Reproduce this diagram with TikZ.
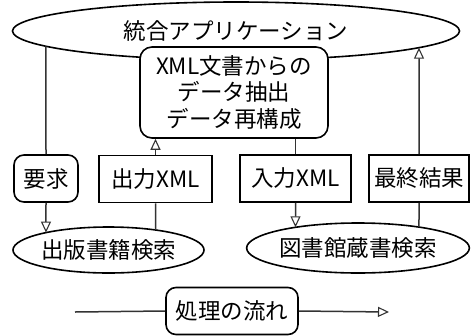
\documentclass[tikz,border=0pt]{standalone}
\usepackage{fontspec}
\setmainfont{Noto Sans CJK JP}
\usetikzlibrary{shapes.geometric,arrows.meta,intersections}
\begin{document}
\begin{tikzpicture}[x=1pt,y=-1pt,
  every node/.style={font=\fontsize{22.5}{26.5}\selectfont, inner sep=0pt},
  line/.style={line width=1.5pt, draw=black!80},
  arr/.style={line, -{Triangle[open,length=11pt,width=10pt,line width=1.1pt]}},
  box/.style={draw, line width=1.6pt, fill=white, minimum width=#1, minimum height=47pt},
  rbox/.style={box=#1, rounded corners=10pt},
  oval/.style={draw, ellipse, line width=1.6pt, fill=white}
]
\useasboundingbox (0,0) rectangle (473,335);

\node[oval, name path=appP, minimum width=447pt, minimum height=58pt] (app) at (236,31) {統合アプリケーション};
\node[draw, line width=1.6pt, fill=white, rounded corners=12pt, minimum width=188pt, minimum height=91pt, align=center] (proc) at (234,92.5) {XML文書からの\\データ抽出\\データ再構成};

\node[rbox=64pt] (req) at (46,178.5) {要求};
\node[box=113pt] (out) at (155.5,179) {出力XML};
\node[box=111pt] (in) at (295.5,178.5) {入力XML};
\node[box=100pt] (fin) at (419,178.5) {最終結果};

\node[oval, name path=pubP, minimum width=191pt, minimum height=46pt] (pub) at (108.5,250) {出版書籍検索};
\node[oval, name path=libP, minimum width=192pt, minimum height=50pt] (lib) at (358,248) {図書館蔵書検索};

\node[rbox=132pt] (flow) at (232,311) {処理の流れ};
\coordinate (fs) at (75,312);
\coordinate (fe) at (389,312);

% helper vertical paths
\path[name path=v1] (req.north) -- ++(0,-130);
\path[name path=v2] (req.south) -- ++(0,40);
\path[name path=v3] (out.south) -- ++(0,40);
\path[name path=v4] (in.south) -- ++(0,40);
\path[name path=v5] (fin.south) -- ++(0,40);
\path[name path=v6] (fin.north) -- ++(0,-130);
\path[name intersections={of=appP and v1, by=i1}];
\path[name intersections={of=pubP and v2, by=i2}];
\path[name intersections={of=pubP and v3, by=i3}];
\path[name intersections={of=libP and v4, by=i4}];
\path[name intersections={of=libP and v5, by=i5}];
\path[name intersections={of=appP and v6, by=i6}];

\draw[line] (i1) -- (req.north);
\draw[arr] (req.south) -- (i2);
\draw[arr] (out.north) -- (out.north |- proc.south);
\draw[line] (out.south) -- (i3);
\draw[line] (proc.south -| in.north) -- (in.north);
\draw[arr] (in.south) -- (i4);
\draw[line] (i5) -- (fin.south);
\draw[arr] (fin.north) -- (i6);

\draw[line] (fs) -- (flow.west);
\draw[arr] (flow.east) -- (fe);
\end{tikzpicture}
\end{document}
